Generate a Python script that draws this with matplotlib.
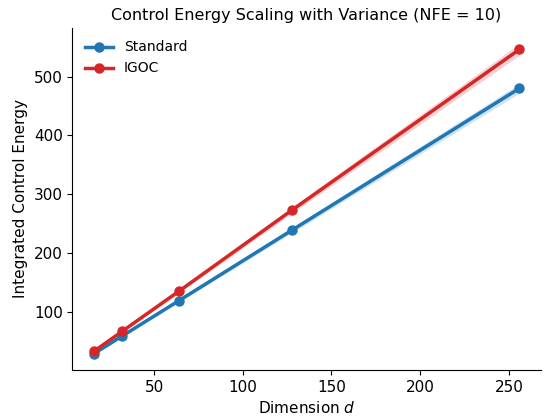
import numpy as np
import matplotlib.pyplot as plt

dims = np.array([16, 32, 64, 128, 256])
standard_mean = np.array([30, 60, 120, 240, 480])
standard_std = np.array([1.0, 1.5, 2.5, 4.5, 8.0])
igoc_mean = np.array([34, 68, 136, 274, 546])
igoc_std = np.array([1.2, 1.8, 3.0, 5.5, 10.0])

fig, ax = plt.subplots(figsize=(5.49, 4.17), dpi=100)

ax.plot(dims, standard_mean, '-o', color='#1f77b4', lw=2.5, ms=6.5, label='Standard')
ax.fill_between(dims, standard_mean - standard_std, standard_mean + standard_std,
                color='#1f77b4', alpha=0.2, lw=0)
ax.plot(dims, igoc_mean, '-o', color='#d62728', lw=2.5, ms=6.5, label='IGOC')
ax.fill_between(dims, igoc_mean - igoc_std, igoc_mean + igoc_std,
                color='#d62728', alpha=0.2, lw=0)

ax.set_xlabel('Dimension $d$', fontsize=11)
ax.set_ylabel('Integrated Control Energy', fontsize=11)
ax.set_title('Control Energy Scaling with Variance (NFE = 10)', fontsize=11.5)
ax.tick_params(labelsize=11)
ax.set_yticks([100, 200, 300, 400, 500])
ax.spines['top'].set_visible(False)
ax.spines['right'].set_visible(False)
ax.legend(frameon=False, loc='upper left', fontsize=10)

fig.subplots_adjust(left=0.132, right=0.985, top=0.933, bottom=0.113)
fig.savefig('out.png')
